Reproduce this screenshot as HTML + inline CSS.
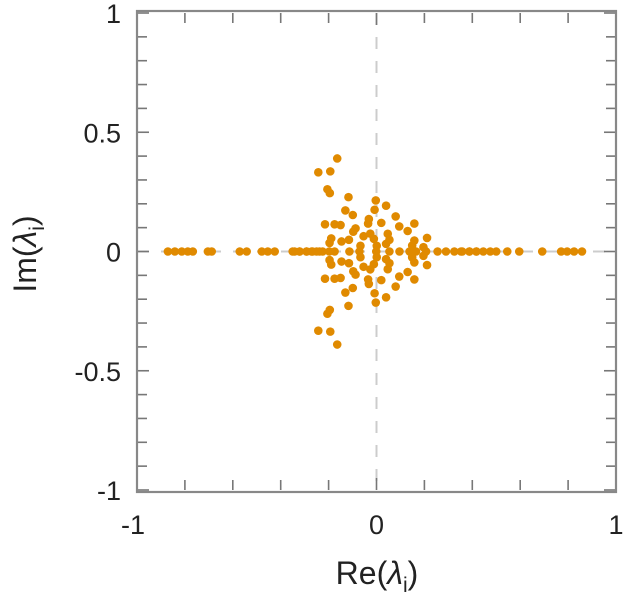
<!DOCTYPE html>
<html><head><meta charset="utf-8"><style>
body{margin:0;background:#fff}
svg text{font-family:"Liberation Sans",sans-serif;fill:#222}
</style></head><body>
<svg width="625" height="600" xmlns="http://www.w3.org/2000/svg">
<g id="plot"></g>
</svg>
<script>
const axisRe = [-0.871,-0.842,-0.813,-0.788,-0.767,-0.704,-0.688,-0.571,-0.542,-0.479,-0.454,-0.425,-0.350,-0.321,-0.292,-0.267,-0.238,-0.342,-0.321,-0.292,-0.271,-0.250,-0.225,-0.197,-0.175,-0.113,-0.071,-0.001,0.054,0.096,0.138,0.165,0.207,0.255,0.290,0.325,0.353,0.388,0.417,0.358,0.388,0.417,0.446,0.475,0.500,0.546,0.596,0.692,0.771,0.796,0.825,0.858];
const upperRe = [-0.164,-0.243,-0.193,-0.205,-0.195,-0.117,-0.13,-0.099,-0.003,-0.008,0.04,-0.032,-0.035,0.02,0.08,0.095,0.158,0.13,-0.215,-0.175,-0.15,-0.0875,-0.097,-0.189,-0.196,-0.146,-0.115,-0.067,-0.054,-0.026,-0.011,0.001,0.047,0.054,0.04,0.158,0.149,0.211,0.196];
const upperIm = [0.39,0.332,0.336,0.261,0.245,0.228,0.172,0.153,0.214,0.175,0.192,0.136,0.117,0.12,0.147,0.105,0.117,0.086,0.114,0.114,0.111,0.097,0.083,0.055,0.036,0.042,0.049,0.024,0.064,0.075,0.053,0.024,0.074,0.049,0.032,0.046,0.025,0.057,0.018];
const xTicks = [-1,0,1];
const yTicks = [1,0.5,0,-0.5,-1];

const NS="http://www.w3.org/2000/svg";
const g=document.getElementById('plot');
const X0=137,X1=616,Y0=13,Y1=490;
const sx=v=>X0+(v+1)/2*(X1-X0);
const sy=v=>Y1-(v+1)/2*(Y1-Y0);
function mk(t,a,p){const e=document.createElementNS(NS,t);for(const k in a)e.setAttribute(k,a[k]);(p||g).appendChild(e);return e;}

let e;
e=mk('line',{x1:sx(0),x2:sx(0),y1:Y0,y2:Y1,stroke:'#ccc','stroke-width':2,'stroke-dasharray':'12,12'});


e=mk('line',{x1:X0,x2:X1,y1:sy(0),y2:sy(0),stroke:'#ccc','stroke-width':2,'stroke-dasharray':'12,12'});



for(let i=0;i<=10;i++){
  const v=-1+i*0.2;
  const L=(Math.abs(v)<1e-9)?12:10;
  e=mk('line',{x1:sx(v),x2:sx(v),y1:Y1,y2:Y1-L,stroke:'#777','stroke-width':1.6});
  
  
  e=mk('line',{x1:sx(v),x2:sx(v),y1:Y0,y2:Y0+L,stroke:'#777','stroke-width':1.6});
  
  
}
for(let i=0;i<=20;i++){
  const v=-1+i*0.1;
  const L=(i%5===0)?12:10;
  e=mk('line',{x1:X0,x2:X0+L,y1:sy(v),y2:sy(v),stroke:'#777','stroke-width':1.6});
  
  
  e=mk('line',{x1:X1,x2:X1-L,y1:sy(v),y2:sy(v),stroke:'#777','stroke-width':1.6});
  
  
}
e=mk('rect',{x:X0,y:Y0-2,width:X1-X0,height:Y1-Y0+4,fill:'none',stroke:'#888','stroke-width':2.2});



const pts=[];
axisRe.forEach(r=>pts.push([r,0]));
upperRe.forEach((r,i)=>{pts.push([r,upperIm[i]]);pts.push([r,-upperIm[i]]);});
pts.forEach(p=>{
  e=mk('circle',{cx:sx(p[0]),cy:sy(p[1]),r:4.3,fill:'#e08a00'});
  
  
});

xTicks.forEach(v=>{
  e=mk('text',{x:sx(v)-(v<0?4:0),y:534,'font-size':27,'text-anchor':'middle'});e.textContent=String(v);
  
  
});
yTicks.forEach(v=>{
  e=mk('text',{x:121,y:sy(v)+10,'font-size':27,'text-anchor':'end'});e.textContent=String(v);
  
  
});
e=mk('text',{x:377,y:584,'font-size':32,'text-anchor':'middle'});
e.innerHTML='Re(<tspan font-style="italic">λ</tspan><tspan font-size="21" dy="8">i</tspan><tspan dy="-8">)</tspan>';


e=mk('text',{x:0,y:0,'font-size':32,'text-anchor':'middle',transform:'translate(36,254) rotate(-90)'});
e.innerHTML='Im(<tspan font-style="italic">λ</tspan><tspan font-size="21" dy="8">i</tspan><tspan dy="-8">)</tspan>';


</script>
</body></html>
